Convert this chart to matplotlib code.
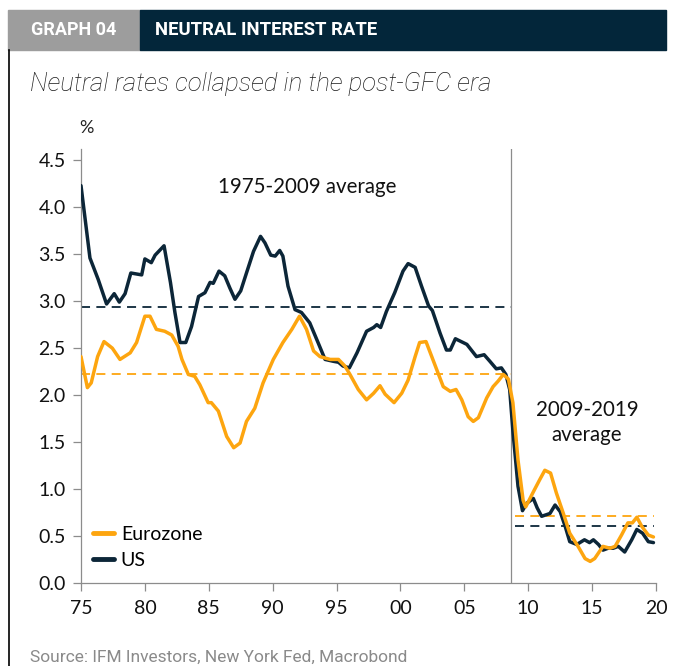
import matplotlib
matplotlib.use("Agg")
import matplotlib.pyplot as plt
import matplotlib.patches as mpatches
import matplotlib.lines as mlines

# ---- data ----
us_year = [1975.0, 1975.7, 1976.35, 1977.0, 1977.6, 1978.0, 1978.45, 1978.9, 1979.75, 1980.0,
           1980.5, 1980.8, 1981.5, 1982.0, 1982.35, 1982.75, 1983.2, 1983.65, 1984.2, 1984.7,
           1985.1, 1985.35, 1985.8, 1986.25, 1986.65, 1987.05, 1987.5, 1987.95, 1988.5, 1989.05,
           1989.4, 1989.85, 1990.2, 1990.55, 1990.8, 1991.2, 1991.75, 1992.25, 1992.9, 1993.55,
           1994.1, 1994.75, 1995.15, 1995.5, 1996.0, 1996.6, 1997.35, 1997.9, 1998.15, 1998.45,
           1998.9, 1999.55, 2000.2, 2000.6, 2001.15, 2001.65, 2002.2, 2002.5, 2003.1, 2003.6,
           2003.9, 2004.3, 2004.9, 2005.2, 2005.95, 2006.55, 2007.0, 2007.5, 2007.9, 2008.25,
           2008.55, 2008.8, 2009.2, 2009.55, 2009.9, 2010.4, 2010.7, 2011.05, 2011.7, 2012.1,
           2012.5, 2012.9, 2013.25, 2013.8, 2014.4, 2014.8, 2015.1, 2015.5, 2015.85, 2016.25,
           2016.65, 2017.05, 2017.55, 2018.1, 2018.5, 2018.95, 2019.4, 2019.8]
us_rate = [4.23, 3.46, 3.23, 2.97, 3.08, 2.99, 3.08, 3.30, 3.28, 3.45,
           3.41, 3.49, 3.59, 3.20, 2.88, 2.56, 2.56, 2.73, 3.05, 3.09,
           3.20, 3.19, 3.32, 3.27, 3.14, 3.02, 3.11, 3.30, 3.53, 3.69,
           3.62, 3.49, 3.48, 3.54, 3.48, 3.16, 2.91, 2.88, 2.77, 2.56,
           2.38, 2.36, 2.35, 2.31, 2.29, 2.45, 2.68, 2.72, 2.75, 2.72,
           2.89, 3.09, 3.32, 3.40, 3.36, 3.16, 2.95, 2.90, 2.66, 2.48,
           2.48, 2.60, 2.56, 2.54, 2.41, 2.43, 2.36, 2.28, 2.29, 2.22,
           2.06, 1.62, 1.03, 0.77, 0.85, 0.90, 0.80, 0.71, 0.74, 0.83,
           0.76, 0.60, 0.44, 0.41, 0.46, 0.43, 0.46, 0.41, 0.35, 0.37,
           0.37, 0.39, 0.33, 0.46, 0.57, 0.53, 0.44, 0.43]

ez_year = [1975.0, 1975.5, 1975.8, 1976.3, 1976.8, 1977.45, 1978.05, 1978.85, 1979.35, 1980.0,
           1980.4, 1980.9, 1981.55, 1982.1, 1982.6, 1982.9, 1983.4, 1983.9, 1984.3, 1984.95,
           1985.2, 1985.75, 1986.4, 1986.95, 1987.45, 1987.95, 1988.6, 1989.25, 1990.05, 1990.8,
           1991.5, 1992.1, 1992.65, 1993.2, 1993.7, 1994.5, 1995.15, 1995.65, 1996.05, 1996.7,
           1997.35, 1997.9, 1998.4, 1998.8, 1999.5, 2000.1, 2000.6, 2001.15, 2001.5, 2002.0,
           2002.45, 2002.9, 2003.35, 2003.9, 2004.35, 2004.8, 2005.3, 2005.7, 2006.1, 2006.75,
           2007.25, 2007.65, 2008.05, 2008.45, 2008.8, 2009.2, 2009.6, 2009.8, 2010.4, 2010.9,
           2011.3, 2011.75, 2012.2, 2012.75, 2013.25, 2013.9, 2014.45, 2014.85, 2015.2, 2015.85,
           2016.4, 2016.8, 2017.3, 2017.8, 2018.15, 2018.5, 2018.9, 2019.4, 2019.8]
ez_rate = [2.41, 2.08, 2.13, 2.41, 2.57, 2.50, 2.38, 2.45, 2.56, 2.84,
           2.84, 2.70, 2.68, 2.64, 2.52, 2.38, 2.22, 2.20, 2.11, 1.92,
           1.92, 1.83, 1.56, 1.44, 1.49, 1.72, 1.86, 2.13, 2.38, 2.56,
           2.70, 2.84, 2.70, 2.47, 2.41, 2.38, 2.38, 2.31, 2.22, 2.06,
           1.95, 2.02, 2.10, 2.01, 1.92, 2.02, 2.16, 2.41, 2.56, 2.57,
           2.41, 2.25, 2.09, 2.04, 2.06, 1.95, 1.77, 1.72, 1.76, 1.97,
           2.09, 2.15, 2.22, 2.17, 1.92, 1.31, 0.88, 0.81, 0.97, 1.10,
           1.20, 1.17, 0.96, 0.74, 0.53, 0.39, 0.26, 0.23, 0.26, 0.39,
           0.37, 0.39, 0.51, 0.64, 0.64, 0.70, 0.60, 0.51, 0.49]

# period averages: (start, end) of each period and the level for each series
avg_start = [1975.0, 2009.0]
avg_end = [2008.65, 2019.85]
us_avg = [2.94, 0.61]
ez_avg = [2.23, 0.71]
gfc_year = 2008.65

xticks = [1975, 1980, 1985, 1990, 1995, 2000, 2005, 2010, 2015, 2020]
xticklabels = ["75", "80", "85", "90", "95", "00", "05", "10", "15", "20"]
yticks = [0.0, 0.5, 1.0, 1.5, 2.0, 2.5, 3.0, 3.5, 4.0, 4.5]

NAVY = "#0c2638"
ORANGE = "#fda50f"
GRID_GRAY = "#8c8c8c"

plt.rcParams['font.family'] = ['Lato', 'DejaVu Sans']

fig = plt.figure(figsize=(6.74, 6.66), dpi=100)
W, H = 674, 666


def fx(px):
    return px / W


def fy(py):
    return 1 - py / H


# ---- header bar ----
fig.patches.append(mpatches.Rectangle((fx(8), fy(50)), fx(140) - fx(8), fy(10) - fy(50),
                                      transform=fig.transFigure, color="#9d9d9d", zorder=0))
fig.patches.append(mpatches.Rectangle((fx(140), fy(50)), fx(666) - fx(140), fy(10) - fy(50),
                                      transform=fig.transFigure, color="#03263a", zorder=0))
fig.lines.append(mlines.Line2D([fx(9), fx(9)], [fy(50), 0], transform=fig.transFigure,
                               color="black", lw=1.2))
fig.text(fx(74), fy(30), "GRAPH 04", color="white", fontsize=13, fontweight="bold",
         family="Roboto", ha="center", va="center")
fig.text(fx(155), fy(30), "NEUTRAL INTEREST RATE", color="white", fontsize=13.3,
         fontweight="bold", family="Roboto", ha="left", va="center")
fig.text(fx(30), fy(84), "Neutral rates collapsed in the post-GFC era", fontsize=18.5,
         style="italic", fontweight="light", family="Roboto", color="#1a1a1a",
         ha="left", va="center")
fig.text(fx(86), fy(128), "%", fontsize=13, color="#222222", ha="center", va="center")
fig.text(fx(30), fy(657), "Source: IFM Investors, New York Fed, Macrobond", fontsize=12.5,
         color="#8a8a8a", family="Roboto", ha="left", va="center")

# ---- chart ----
ax = fig.add_axes([fx(81), fy(583), fx(656) - fx(81), fy(149) - fy(583)])

ax.plot(us_year, us_rate, color=NAVY, lw=2.5, solid_capstyle="round", label="US", zorder=3)
ax.plot(ez_year, ez_rate, color=ORANGE, lw=2.5, solid_capstyle="round", label="Eurozone", zorder=4)

for s, e, u, z in zip(avg_start, avg_end, us_avg, ez_avg):
    ax.plot([s, e], [u, u], color=NAVY, lw=1.3, dashes=(5, 3.5), zorder=2)
    ax.plot([s, e], [z, z], color=ORANGE, lw=1.3, dashes=(5, 3.5), zorder=2)

ax.axvline(gfc_year, color=GRID_GRAY, lw=0.9, zorder=1)

ax.text(1992.7, 4.22, "1975-2009 average", fontsize=14.8, ha="center", va="center", color="#111111")
ax.text(2014.6, 1.71, "2009-2019\naverage", fontsize=14.8, ha="center", va="center",
        color="#111111", linespacing=1.3)

ax.set_xlim(1975, 2020)
ax.set_ylim(0, 4.62)
ax.set_xticks(xticks)
ax.set_xticklabels(xticklabels)
ax.set_yticks(yticks)
ax.set_yticklabels([f"{v:.1f}" for v in yticks])

for side in ["top", "right"]:
    ax.spines[side].set_visible(False)
for side in ["left", "bottom"]:
    ax.spines[side].set_color(GRID_GRAY)
    ax.spines[side].set_linewidth(0.9)
ax.tick_params(axis="both", direction="out", length=6, width=0.9, color=GRID_GRAY,
               labelsize=14, labelcolor="#111111")
ax.tick_params(axis="y", pad=5)
ax.tick_params(axis="x", pad=6)

handles, labels = ax.get_legend_handles_labels()
leg = ax.legend(handles[::-1], labels[::-1], loc="lower left", bbox_to_anchor=(0.0, 0.006),
                frameon=False, fontsize=14, handlelength=1.1, handletextpad=0.35,
                labelspacing=0.45, borderaxespad=0.2)
for line in leg.get_lines():
    line.set_linewidth(3.5)

fig.savefig("out.png", dpi=100)
